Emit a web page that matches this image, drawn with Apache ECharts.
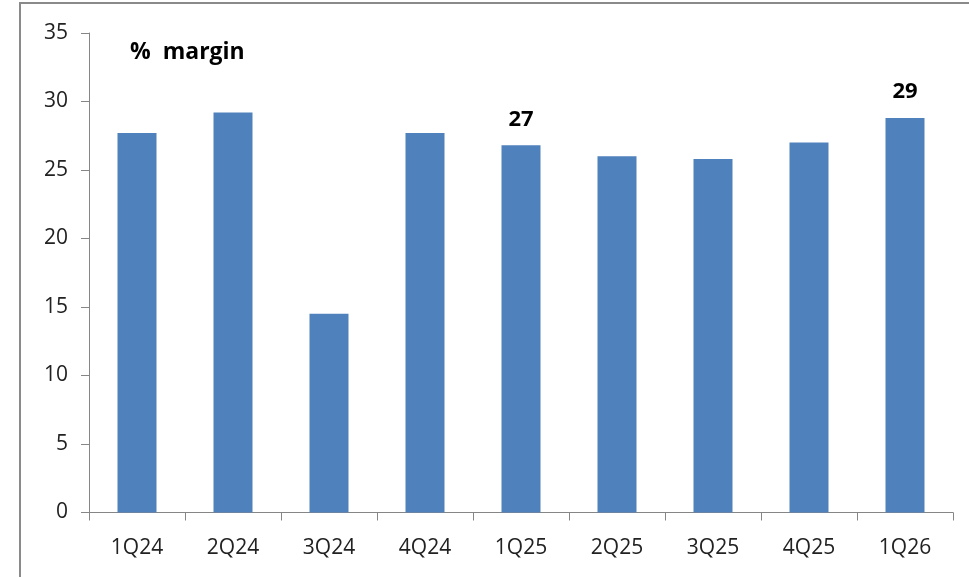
<!DOCTYPE html>
<html>
<head>
<meta charset="utf-8">
<script src="https://cdn.jsdelivr.net/npm/echarts@6/dist/echarts.min.js"></script>
<style>
  html, body { margin: 0; padding: 0; background: #fff; }
  #chart { width: 969px; height: 577px; }
</style>
</head>
<body>
<div id="chart"></div>
<script>
// Quarterly margin, in percent
const quarters = ['1Q24', '2Q24', '3Q24', '4Q24', '1Q25', '2Q25', '3Q25', '4Q25', '1Q26'];
const marginPct = [27.7, 29.2, 14.5, 27.7, 26.8, 26.0, 25.8, 27.0, 28.8];
// Quarters whose value is printed above the bar
const labelledQuarters = ['1Q25', '1Q26'];
const yTicks = [0, 5, 10, 15, 20, 25, 30, 35];

const FONT = '"Open Sans", "Noto Sans", sans-serif';
const AXIS_GREY = '#868686';

const chart = echarts.init(document.getElementById('chart'), null, { renderer: 'canvas' });

const option = {
  backgroundColor: '#ffffff',
  animation: false,
  grid: { left: 89, right: 16, top: 33, bottom: 64.5, containLabel: false },
  graphic: [
    {
      type: 'rect',
      shape: { x: 20, y: 3, width: 1000, height: 1000 },
      style: { fill: 'none', stroke: '#8a8a8a', lineWidth: 2 },
      silent: true
    },
    {
      type: 'text',
      left: 130,
      top: 41,
      style: {
        text: '%  margin',
        font: 'bold 23px ' + FONT,
        fill: '#000000'
      }
    }
  ],
  xAxis: {
    type: 'category',
    data: quarters,
    boundaryGap: true,
    axisLine: { show: true, lineStyle: { color: AXIS_GREY, width: 1 } },
    axisTick: { show: true, alignWithLabel: false, length: 8, inside: false, lineStyle: { color: AXIS_GREY } },
    axisLabel: { color: '#222222', fontFamily: FONT, fontSize: 21, margin: 25 },
    splitLine: { show: false }
  },
  yAxis: {
    type: 'value',
    min: yTicks[0],
    max: yTicks[yTicks.length - 1],
    interval: yTicks[1] - yTicks[0],
    axisLine: { show: true, lineStyle: { color: AXIS_GREY, width: 1 } },
    axisTick: { show: true, length: 8, lineStyle: { color: AXIS_GREY } },
    axisLabel: { color: '#222222', fontFamily: FONT, fontSize: 21, margin: 21 },
    splitLine: { show: false }
  },
  series: [
    {
      type: 'bar',
      data: marginPct.map((v, i) => ({
        value: v,
        label: {
          show: labelledQuarters.indexOf(quarters[i]) !== -1
        }
      })),
      barWidth: 39,
      itemStyle: { color: '#4f81bd' },
      label: {
        position: 'top',
        distance: 15,
        formatter: p => String(Math.round(p.value)),
        color: '#000000',
        fontFamily: FONT,
        fontWeight: 'bold',
        fontSize: 22
      }
    }
  ]
};

chart.setOption(option);
</script>
</body>
</html>
